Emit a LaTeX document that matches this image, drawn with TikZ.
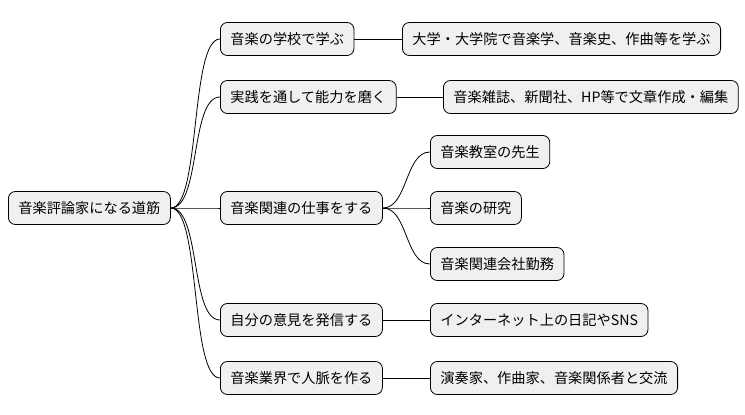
\documentclass[tikz,border=0pt]{standalone}
\usepackage{fontspec}
\setmainfont{Noto Sans CJK JP}
\begin{document}
\begin{tikzpicture}[x=1pt,y=-1pt,
  box/.style={draw=black,line width=0.8pt,fill=black!6,rounded corners=7pt,minimum height=33pt,inner xsep=10pt,anchor=west,font=\fontsize{14.2pt}{16pt}\selectfont},
  link/.style={line width=0.8pt,black}]
\useasboundingbox (0,0) rectangle (745,415);
\node[box] (r) at (8,208) {音楽評論家になる道筋};
\node[box] (a) at (220,39) {音楽の学校で学ぶ};
\node[box] (b) at (220,97) {実践を通して能力を磨く};
\node[box] (c) at (220,208) {音楽関連の仕事をする};
\node[box] (d) at (220,320) {自分の意見を発信する};
\node[box] (e) at (220,378) {音楽業界で人脈を作る};
\node[box] (a1) at (402,39) {大学・大学院で音楽学、音楽史、作曲等を学ぶ};
\node[box] (b1) at (443,97) {音楽雑誌、新聞社、HP等で文章作成・編集};
\node[box] (c1) at (430,152) {音楽教室の先生};
\node[box] (c2) at (430,208) {音楽の研究};
\node[box] (c3) at (430,264) {音楽関連会社勤務};
\node[box] (d1) at (430,320) {インターネット上の日記やSNS};
\node[box] (e1) at (430,378) {演奏家、作曲家、音楽関係者と交流};
\foreach \n in {a,b,c,d,e}
  \draw[link] (r.east) .. controls +(30,0) and +(-30,0) .. (\n.west);
\draw[link] (a.east) -- (a1.west);
\draw[link] (b.east) -- (b1.west);
\foreach \n in {c1,c2,c3}
  \draw[link] (c.east) .. controls +(25,0) and +(-25,0) .. (\n.west);
\draw[link] (d.east) -- (d1.west);
\draw[link] (e.east) -- (e1.west);
\end{tikzpicture}
\end{document}
